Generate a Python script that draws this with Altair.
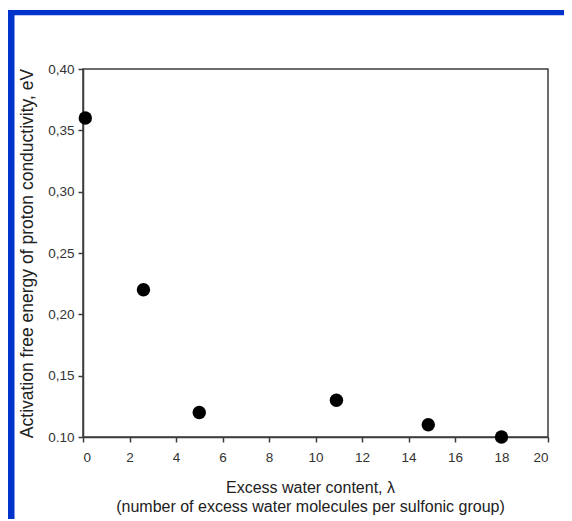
import altair as alt
import pandas as pd

# data
water_content = [0.1, 2.6, 5.0, 10.9, 14.85, 18.0]
activation_energy = [0.36, 0.22, 0.12, 0.13, 0.11, 0.10]
x_ticks = [0, 2, 4, 6, 8, 10, 12, 14, 16, 18, 20]
y_ticks = [0.10, 0.15, 0.20, 0.25, 0.30, 0.35, 0.40]
y_tick_labels = ["0.10", "0,15", "0,20", "0,25", "0,30", "0,35", "0,40"]

x_title = ["Excess water content, λ", "(number of excess water molecules per sulfonic group)"]
y_title = "Activation free energy of proton conductivity, eV"

df = pd.DataFrame({"lam": water_content, "ea": activation_energy})
frame_df = pd.DataFrame({"k": [0]})

FONT = "Liberation Sans"
GRAY = "#3c3c3c"
BLUE = "#0033cc"

label_expr = "[" + ",".join("'%s'" % s for s in y_tick_labels) + "][round((datum.value - 0.1) / 0.05)]"

points = alt.Chart(df).mark_circle(size=180, color="black", opacity=1).encode(
    x=alt.X("lam:Q",
            scale=alt.Scale(domain=[0, 20], nice=False, zero=False),
            axis=alt.Axis(values=x_ticks, title=x_title, titleX=227,
                          titlePadding=16, labelPadding=8, titleLineHeight=19)),
    y=alt.Y("ea:Q",
            scale=alt.Scale(domain=[0.1, 0.4], nice=False, zero=False),
            axis=alt.Axis(values=y_ticks, labelExpr=label_expr, title=y_title,
                          titlePadding=11, labelPadding=4, titleFontSize=17.5)),
)

top_bar = alt.Chart(frame_df).mark_rect(color=BLUE).encode(
    x=alt.value(-75), x2=alt.value(481), y=alt.value(-59), y2=alt.value(-53.7)
)
left_bar = alt.Chart(frame_df).mark_rect(color=BLUE).encode(
    x=alt.value(-75), x2=alt.value(-68.5), y=alt.value(-59), y2=alt.value(460)
)

chart = alt.layer(top_bar, left_bar, points).properties(
    width=465, height=368,
    autosize=alt.AutoSizeParams(type="none"),
    padding={"left": 75, "top": 61, "right": 16, "bottom": 82},
    background="white",
).configure_view(
    stroke=GRAY, strokeWidth=1.5
).configure_axis(
    grid=False,
    domainColor=GRAY, domainWidth=1.5,
    tickColor=GRAY, tickWidth=1.5, tickSize=5,
    labelFont=FONT, labelFontSize=13.5, labelColor="#333333",
    titleFont=FONT, titleFontSize=16, titleFontWeight="normal", titleColor="#222222",
)

chart.save("out.html", embed_options={"renderer": "svg", "actions": False})
